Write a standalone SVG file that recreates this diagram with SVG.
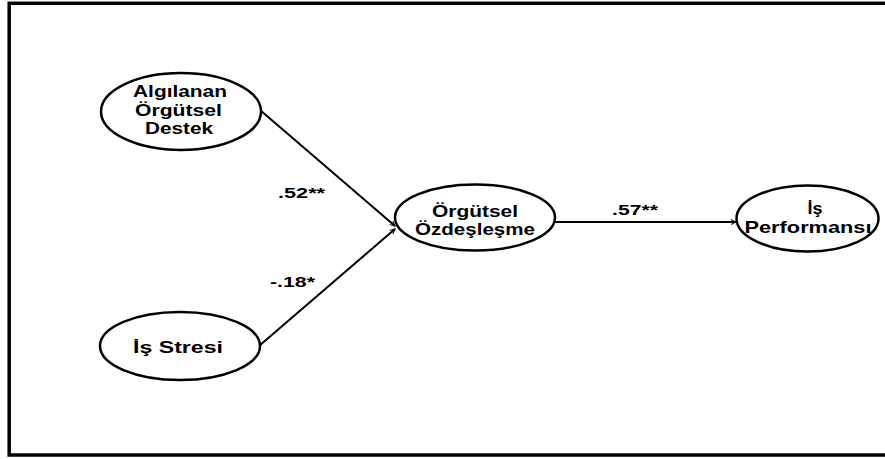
<svg xmlns="http://www.w3.org/2000/svg" width="885" height="459" viewBox="0 0 885 459">
<defs>
<style>
.node{fill:#fff;stroke:#000;stroke-width:2.5}
.t{font-family:"Liberation Sans",Arial,sans-serif;font-weight:bold;font-size:17px;fill:#000;text-anchor:middle}
.l{font-family:"Liberation Sans",Arial,sans-serif;font-weight:bold;font-size:15px;fill:#000}
.c{stroke:#000;stroke-width:2;fill:none}
</style>
<marker id="arr" viewBox="0 0 10 10" refX="10" refY="5" markerWidth="5" markerHeight="5" orient="auto" markerUnits="userSpaceOnUse" overflow="visible">
<path d="M0,0 L10,5 L0,10" fill="none" stroke="#000" stroke-width="2"/>
</marker>
</defs>
<rect x="0" y="0" width="885" height="459" fill="#fff"/>
<rect x="9.2" y="3.3" width="885" height="451.7" fill="none" stroke="#000" stroke-width="3.5"/>
<g id="connectors">
<line class="c" x1="260" y1="110" x2="395" y2="226" marker-end="url(#arr)"/>
<line class="c" x1="259" y1="346" x2="395" y2="229" marker-end="url(#arr)"/>
<line class="c" x1="555" y1="222" x2="736" y2="222" marker-end="url(#arr)"/>
<text class="l" x="278" y="198" textLength="47" lengthAdjust="spacingAndGlyphs">.52**</text>
<text class="l" x="270" y="287" textLength="45" lengthAdjust="spacingAndGlyphs">-.18*</text>
<text class="l" x="612" y="215" textLength="46" lengthAdjust="spacingAndGlyphs">.57**</text>
</g>
<g id="node-aod">
<ellipse class="node" cx="181" cy="111.5" rx="80" ry="38.5"/>
<text class="t" x="180" y="97" textLength="94" lengthAdjust="spacingAndGlyphs">Algılanan</text>
<text class="t" x="178.5" y="116" textLength="87" lengthAdjust="spacingAndGlyphs">Örgütsel</text>
<text class="t" x="179" y="134" textLength="68" lengthAdjust="spacingAndGlyphs">Destek</text>
</g>
<g id="node-stres">
<ellipse class="node" cx="180" cy="346" rx="80" ry="34"/>
<text class="t" x="178" y="353" textLength="90" lengthAdjust="spacingAndGlyphs">İş Stresi</text>
</g>
<g id="node-oz">
<ellipse class="node" cx="475" cy="217.5" rx="80" ry="33"/>
<text class="t" x="475" y="217" textLength="86" lengthAdjust="spacingAndGlyphs">Örgütsel</text>
<text class="t" x="475" y="235" textLength="120" lengthAdjust="spacingAndGlyphs">Özdeşleşme</text>
</g>
<g id="node-perf">
<ellipse class="node" cx="807.5" cy="218.5" rx="71" ry="33"/>
<text class="t" x="815" y="213.5" textLength="15" lengthAdjust="spacingAndGlyphs">İş</text>
<text class="t" x="808" y="233" textLength="127" lengthAdjust="spacingAndGlyphs">Performansı</text>
</g>
</svg>
